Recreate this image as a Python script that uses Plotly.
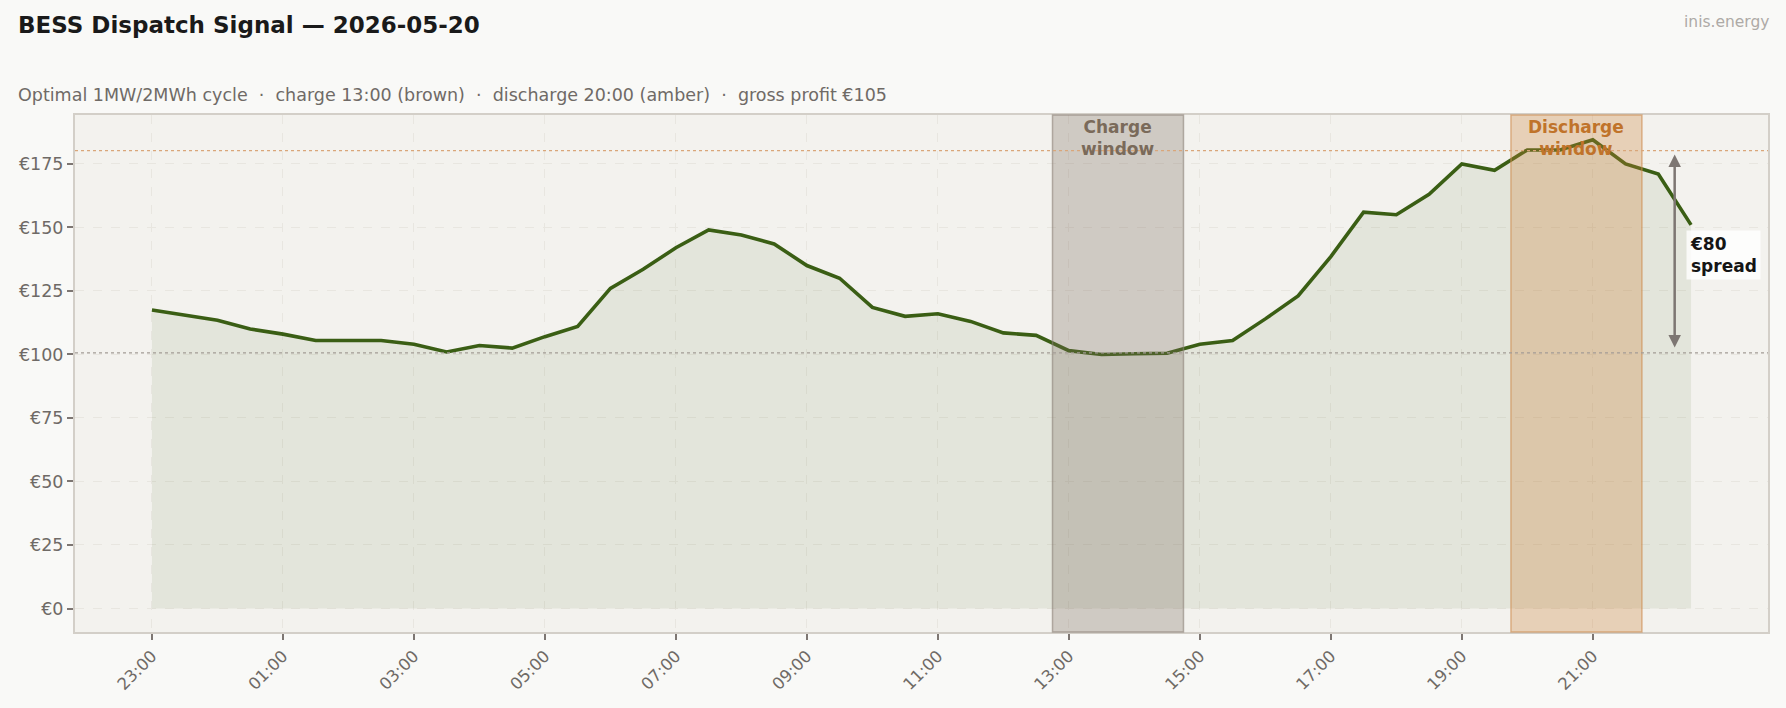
import plotly.graph_objects as go
import pandas as pd

# ---- data ----
times = pd.date_range("2026-05-19 23:00", "2026-05-20 22:30", freq="30min")
prices = [117.5, 115.5, 113.5, 110, 108, 105.5, 105.5, 105.5, 104, 101,
          103.5, 102.5, 107, 111, 126, 133.5, 142, 149, 147, 143.5,
          135, 130, 118.5, 115, 116, 113, 108.5, 107.5, 101.5, 100,
          100.3, 100.5, 104, 105.5, 114, 123, 138.5, 156, 155, 163,
          175, 172.5, 180.5, 180.5, 184.5, 175, 171, 151]
charge_window = ["2026-05-20 12:45", "2026-05-20 14:45"]
discharge_window = ["2026-05-20 19:45", "2026-05-20 21:45"]
charge_avg = 100.6
discharge_avg = 180.2
spread_label = "€80<br>spread"
spread_x = "2026-05-20 22:15"
x_ticks = pd.date_range("2026-05-19 23:00", "2026-05-20 21:00", freq="2h")
y_ticks = [0, 25, 50, 75, 100, 125, 150, 175]
y_ticktext = ["€0", "€25", "€50", "€75", "€100", "€125", "€150", "€175"]

W, H = 1786, 708
ML, MR, MT, MB = 75, 18, 115, 76
PW, PH = W - ML - MR, H - MT - MB

def px(xp):
    return (xp - ML) / PW

def py(yp):
    return (H - MB - yp) / PH

FONT = "DejaVu Sans"

fig = go.Figure()

fig.add_trace(go.Scatter(
    x=times, y=prices, mode="lines",
    line=dict(color="#3a5e14", width=3.6),
    fill="tozeroy", fillcolor="rgba(70,95,30,0.09)",
    hoverinfo="skip", showlegend=False,
))

# windows
fig.add_vrect(x0=charge_window[0], x1=charge_window[1],
              fillcolor="rgba(125,110,95,0.30)", line=dict(color="rgba(140,130,120,0.6)", width=1.5),
              layer="above")
fig.add_vrect(x0=discharge_window[0], x1=discharge_window[1],
              fillcolor="rgba(205,130,55,0.30)", line=dict(color="rgba(205,140,80,0.6)", width=1.5),
              layer="above")

# reference dotted lines
fig.add_hline(y=charge_avg, line=dict(color="#a39c95", width=1.2, dash="dot"), layer="above")
fig.add_hline(y=discharge_avg, line=dict(color="#d9a67a", width=1.2, dash="dot"), layer="above")

# window labels
fig.add_annotation(x=pd.Timestamp(charge_window[0]) + (pd.Timestamp(charge_window[1]) - pd.Timestamp(charge_window[0])) / 2,
                   y=1.0, xref="x", yref="paper", yanchor="top", showarrow=False,
                   text="<b>Charge<br>window</b>", font=dict(family=FONT, size=17, color="#7a6a5a"),
                   align="center")
fig.add_annotation(x=pd.Timestamp(discharge_window[0]) + (pd.Timestamp(discharge_window[1]) - pd.Timestamp(discharge_window[0])) / 2,
                   y=1.0, xref="x", yref="paper", yanchor="top", showarrow=False,
                   text="<b>Discharge<br>window</b>", font=dict(family=FONT, size=17, color="#c0732a"),
                   align="center")

# spread arrow
fig.add_annotation(x=spread_x, y=discharge_avg - 1.5, ax=spread_x, ay=charge_avg + 1.5,
                   xref="x", yref="y", axref="x", ayref="y",
                   showarrow=True, arrowhead=2, arrowside="end+start", arrowsize=1.0,
                   arrowwidth=2.5, arrowcolor="#7d7672", text="")
fig.add_annotation(x="2026-05-20 22:25", y=139, xref="x", yref="y",
                   xanchor="left", yanchor="middle", showarrow=False,
                   text="<b>" + spread_label + "</b>", align="left",
                   font=dict(family=FONT, size=17, color="#151515"),
                   bgcolor="rgba(255,255,255,0.8)", borderpad=3)

# titles
fig.add_annotation(x=px(16), y=py(25), xref="paper", yref="paper", xanchor="left", yanchor="middle",
                   showarrow=False, text="<b>BESS Dispatch Signal — 2026-05-20</b>",
                   font=dict(family=FONT, size=23, color="#1a1a1a"))
fig.add_annotation(x=px(16), y=py(95), xref="paper", yref="paper", xanchor="left", yanchor="middle",
                   showarrow=False,
                   text="Optimal 1MW/2MWh cycle  ·  charge 13:00 (brown)  ·  discharge 20:00 (amber)  ·  gross profit €105",
                   font=dict(family=FONT, size=17.5, color="#6f6a66"))
fig.add_annotation(x=px(1771), y=py(22), xref="paper", yref="paper", xanchor="right", yanchor="middle",
                   showarrow=False, text="inis.energy",
                   font=dict(family=FONT, size=15.5, color="#aeaaa6"))

x0 = pd.Timestamp("2026-05-19 23:00") - pd.Timedelta(hours=1.175)
x1 = pd.Timestamp("2026-05-20 22:30") + pd.Timedelta(hours=1.175)

fig.update_layout(
    width=W, height=H,
    margin=dict(l=ML, r=MR, t=MT, b=MB),
    paper_bgcolor="#f9f9f7", plot_bgcolor="#f3f2ee",
    font=dict(family=FONT, color="#6f6a66"),
    showlegend=False,
    xaxis=dict(
        type="date", range=[x0, x1],
        tickvals=list(x_ticks), tickformat="%H:%M",
        tickangle=-45, ticks="outside", ticklen=6, tickwidth=1.5, tickcolor="#7d7672",
        tickfont=dict(family=FONT, size=16.5, color="#6f6a66"),
        showgrid=True, gridcolor="#e8e6e0", griddash="dash", gridwidth=1,
        showline=True, linecolor="#d3cfc8", linewidth=2, mirror=True,
        zeroline=False,
    ),
    yaxis=dict(
        range=[-9.25, 194.25],
        tickvals=y_ticks, ticktext=y_ticktext,
        ticks="outside", ticklen=6, tickwidth=1.5, tickcolor="#7d7672",
        tickfont=dict(family=FONT, size=17.5, color="#6f6a66"),
        showgrid=True, gridcolor="#e8e6e0", griddash="dash", gridwidth=1,
        showline=True, linecolor="#d3cfc8", linewidth=2, mirror=True,
        zeroline=False,
    ),
)

fig.write_html("out.html")
